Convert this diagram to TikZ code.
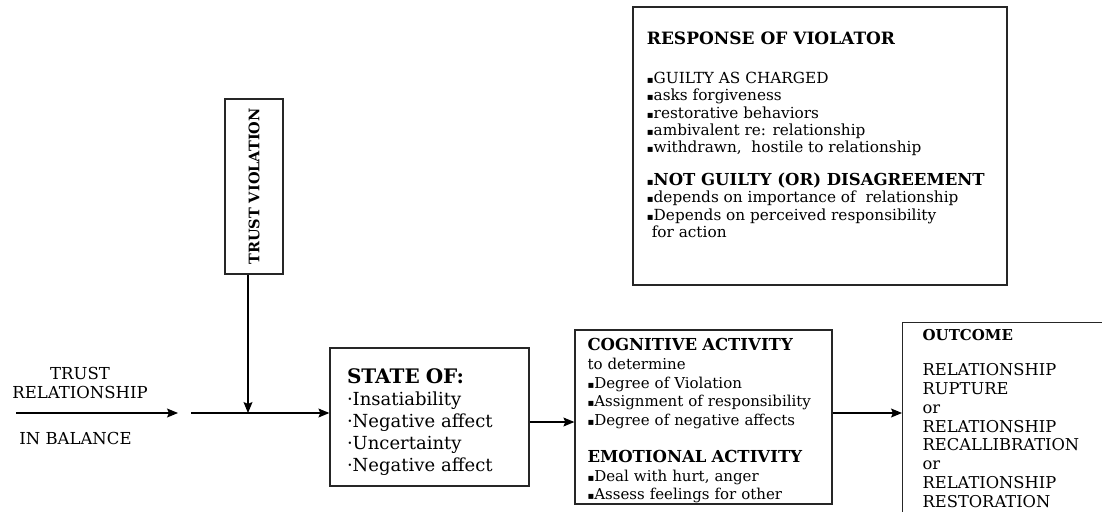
\documentclass[tikz,border=0pt]{standalone}
\usepackage{fontspec}
\setmainfont{DejaVu Serif}
\newfontfamily\symfont{DejaVu Sans}
\usetikzlibrary{positioning, arrows.meta}

\newcommand{\sqbul}{{\symfont\fontsize{10}{10}\selectfont ▪}}
\newcommand{\dotbul}{·}

\begin{document}
\begin{tikzpicture}[x=1pt, y=-1pt, >={Stealth[length=11pt, width=9pt, inset=2pt]}, line width=1.1pt,
  box/.style={rectangle, draw=black!85, line width=1.3pt, inner sep=0pt},
  body/.style={font=\fontsize{15.3}{17.2}\selectfont},
  caps/.style={font=\fontsize{16.5}{19}\selectfont}]

  \useasboundingbox (0,0) rectangle (1102,511);
  \clip (0,0) rectangle (1102,511);

  % boxes
  \node[box, minimum width=58pt, minimum height=175pt] (violation) at (254,186.5)
    {\rotatebox{90}{\fontsize{14.5}{14.5}\selectfont\bfseries TRUST VIOLATION}};

  \node[box, font=\fontsize{18}{22}\selectfont, text width=165pt, inner xsep=17pt, minimum height=138pt, align=left] (state) at (429.5,417)
    {\rule{0pt}{24pt}{\fontsize{20}{22}\selectfont\bfseries STATE OF:}\\
     \dotbul Insatiability\\
     \dotbul Negative affect\\
     \dotbul Uncertainty\\
     \dotbul Negative affect};

  \node[box, font=\fontsize{15}{18.7}\selectfont, text width=232pt, inner xsep=12.5pt, minimum height=174pt, align=left] (cognitive) at (703.5,417)
    {\rule{0pt}{20pt}{\fontsize{16.5}{18.7}\selectfont\bfseries COGNITIVE ACTIVITY}\\
     to determine\\
     \sqbul Degree of Violation\\
     \sqbul Assignment of responsibility\\
     \sqbul Degree of negative affects\\[18pt]
     {\fontsize{16.5}{18.7}\selectfont\bfseries EMOTIONAL ACTIVITY}\\
     \sqbul Deal with hurt, anger\\
     \sqbul Assess feelings for other};

  \node[box, font=\fontsize{16.3}{18.8}\selectfont, anchor=north west, text width=200pt, inner xsep=20pt, minimum height=192pt, align=left] (outcome) at (902,322)
    {{\fontsize{15}{18.8}\selectfont\bfseries OUTCOME}\\[16pt]
     RELATIONSHIP\\
     RUPTURE\\
     or\\
     RELATIONSHIP\\
     RECALLIBRATION\\
     or\\
     RELATIONSHIP\\
     RESTORATION};

  \node[box, minimum width=374pt, minimum height=278pt] (response) at (820,146) {};
  \node[body, anchor=north west, align=left, inner sep=0pt] (responsetext) at ([shift={(14,25)}]response.north west)
    {{\fontsize{17}{17.2}\selectfont\bfseries RESPONSE OF VIOLATOR}\\[22pt]
     \sqbul GUILTY AS CHARGED\\
     \sqbul asks forgiveness\\
     \sqbul restorative behaviors\\
     \sqbul ambivalent re: relationship\\
     \sqbul withdrawn,\ \ hostile to relationship\\[16pt]
     {\fontsize{16.5}{17.2}\selectfont\bfseries\sqbul NOT GUILTY (OR) DISAGREEMENT}\\
     \sqbul depends on importance of\ \ relationship\\
     \sqbul Depends on perceived responsibility\\
     \ for action};

  % free labels
  \node[caps, align=center] (trustlabel) at (80,383) {TRUST\\RELATIONSHIP};
  \node[caps] (balance) at (75.5,438) {IN BALANCE};

  % connectors
  \coordinate (start) at (16,413);
  \coordinate (gapend) at (178,413);
  \coordinate (join) at (191,413);
  \coordinate (mid) at (529,422);
  \coordinate (out) at (832,413);

  \draw[->] (start) -- (gapend);
  \draw[->] (join) -- (join -| state.west);
  \draw[->] ([xshift=-6pt]violation.south) -- ([xshift=-6pt]violation.south |- join);
  \draw[->] (state.east |- mid) -- (cognitive.west |- mid);
  \draw[->] (cognitive.east |- out) -- (outcome.west |- out);

\end{tikzpicture}
\end{document}
